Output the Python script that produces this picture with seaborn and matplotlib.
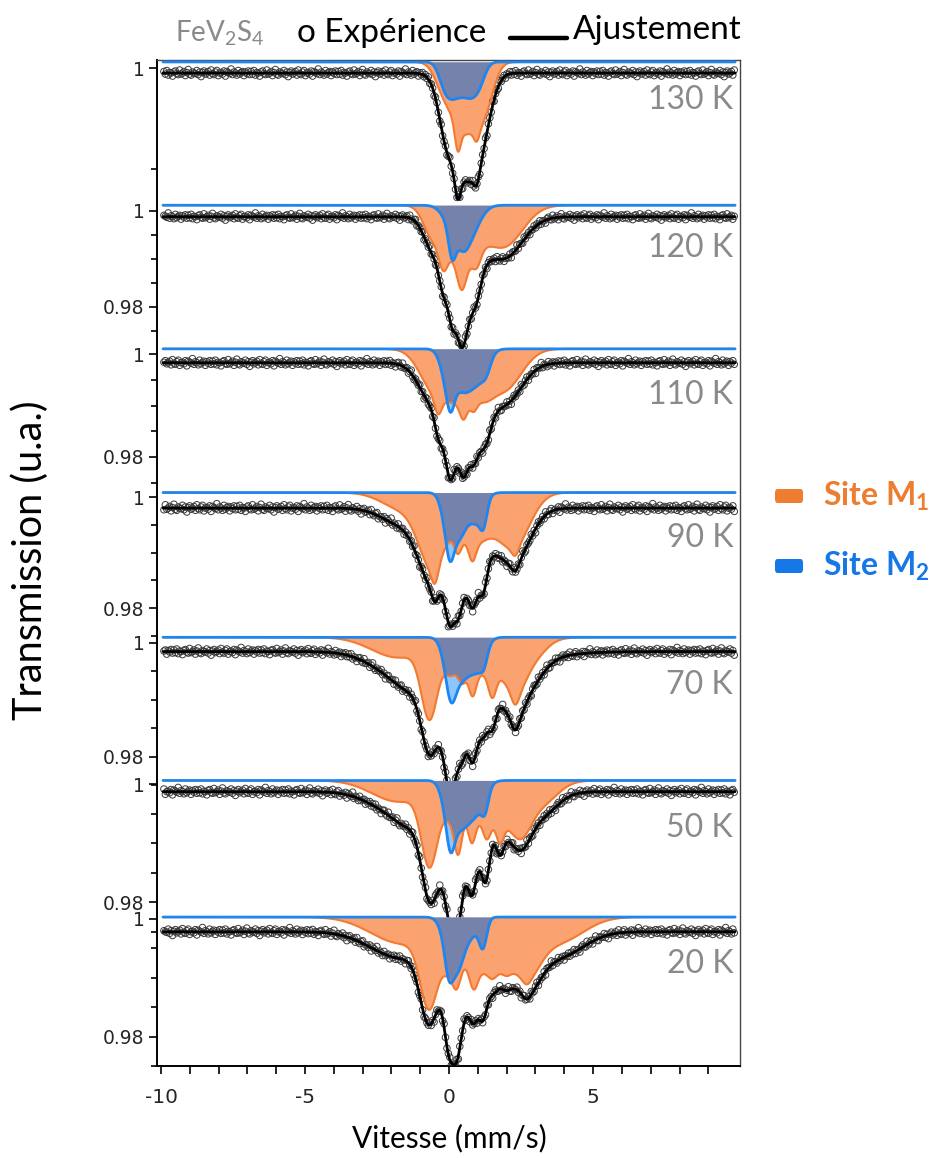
import numpy as np
import matplotlib
matplotlib.use('Agg')
import matplotlib.pyplot as plt
import matplotlib.transforms as mtransforms
from matplotlib.lines import Line2D
from matplotlib.patches import FancyBboxPatch
import seaborn as sns

sns.set_theme(style='ticks')
plt.rcParams['font.family'] = ['Lato', 'DejaVu Sans']
plt.rcParams['mathtext.fontset'] = 'custom'
plt.rcParams['mathtext.rm'] = 'Lato'
plt.rcParams['mathtext.it'] = 'Lato:italic'
plt.rcParams['mathtext.bf'] = 'Lato:bold'
plt.rcParams['axes.unicode_minus'] = False

# temperatures, top to bottom
temps = ['130 K', '120 K', '110 K', '90 K', '70 K', '50 K', '20 K']

# absorption lines of each sub-spectrum:
# (centre in mm/s, depth in 1e-3 of transmission, width in mm/s)
m1_130 = [(0.55, 6.8, 0.45), (0.30, 2.5, 0.10), (0.96, 1.2, 0.10), (1.25, 3.5, 0.30), (-0.20, 2.0, 0.30)]
m2_130 = [(-0.15, 2.3, 0.2), (0.15, 2.3, 0.2), (0.45, 2.0, 0.2), (0.75, 2.3, 0.2), (1.05, 2.0, 0.2)]
m1_120 = [(0.4, 12, 0.55), (1.9, 8.5, 0.65), (-0.6, 5, 0.3), (-0.2, 5, 0.15), (0.44, 5, 0.15), (0.96, 3, 0.15)]
m2_120 = [(0.1, 5.5, 0.12), (0.1, 4, 0.3), (0.5, 6, 0.25), (0.85, 4, 0.3)]
m1_110 = [(0.5, 9, 0.5), (-0.5, 8, 0.5), (1.9, 8, 0.6), (1.25, 3, 0.3), (-0.38, 3, 0.12), (0.5, 3, 0.12), (0.85, 2, 0.12)]
m2_110 = [(0.05, 4, 0.13), (-0.05, 6, 0.22), (0.45, 7, 0.3), (1.0, 5.5, 0.3), (1.3, 2, 0.15)]
m1_90 = [(-0.6, 12, 0.45), (-1.6, 3, 0.7), (0.8, 9, 0.6), (2.25, 9.5, 0.55), (-0.49, 3, 0.12), (0.3, 3, 0.12), (0.81, 3, 0.12), (2.3, 1.5, 0.12)]
m2_90 = [(0.03, 4, 0.13), (-0.05, 5.5, 0.2), (0.35, 7.5, 0.25), (0.95, 5, 0.25), (1.2, 3.5, 0.12)]
m1_70 = [(-0.68, 12, 0.28), (-1.8, 3.5, 0.9), (1.3, 6.5, 1.0), (2.35, 5.5, 0.35), (3.0, 2.0, 0.4),
         (0.05, 3, 0.2), (0.45, 3, 0.13), (0.81, 4.5, 0.13), (1.5, 4, 0.13), (2.3, 2, 0.13)]
m2_70 = [(0.07, 3, 0.15), (0.02, 6, 0.22), (0.45, 6.5, 0.28), (1.0, 5, 0.25), (1.22, 2, 0.12)]
m1_50 = [(-0.68, 12, 0.28), (-1.8, 3.5, 0.9), (1.4, 7, 1.1), (2.5, 5, 0.35), (3.3, 2.5, 0.5),
         (0.1, 3, 0.25), (0.32, 6, 0.13), (0.79, 4.5, 0.13), (1.31, 3, 0.13), (1.77, 3.5, 0.13)]
m2_50 = [(0.05, 4, 0.13), (0.0, 6, 0.22), (0.4, 6, 0.25), (0.9, 5.5, 0.3), (1.25, 3, 0.12)]
m1_20 = [(-0.7, 11, 0.3), (-1.8, 4, 1.0), (1.4, 9.5, 1.3), (2.8, 4, 0.4), (4.0, 3, 0.8), (0.0, 3, 0.2),
         (0.27, 4, 0.14), (0.85, 3.5, 0.14), (1.5, 1.0, 0.14), (2.0, 0.8, 0.14), (2.7, 1.0, 0.14)]
m2_20 = [(-0.02, 3.5, 0.13), (0.05, 6, 0.25), (0.35, 5.5, 0.22), (0.8, 2.8, 0.25), (1.18, 4.5, 0.13)]

# absorption in the total fit that the two drawn sites leave unexplained
fx_130 = []
fx_120 = []
fx_110 = []
fx_90 = []
fx_70 = [(-0.1, 5.5, 0.3), (1.0, 2.5, 1.8), (-1.3, 2.5, 0.5)]
fx_50 = [(-0.3, 5, 0.35), (-1.3, 2.5, 0.5)]
fx_20 = []

m1_all = [m1_130, m1_120, m1_110, m1_90, m1_70, m1_50, m1_20]
m2_all = [m2_130, m2_120, m2_110, m2_90, m2_70, m2_50, m2_20]
fx_all = [fx_130, fx_120, fx_110, fx_90, fx_70, fx_50, fx_20]

# baselines: sub-spectra sit slightly above 1, the measured spectrum slightly below
comp_base = [1.0006, 1.0012, 1.0010, 1.0008, 1.0010, 1.0006, 1.0003]
data_base = [0.9995, 0.9988, 0.9983, 0.9980, 0.9985, 0.9987, 0.9978]

# scatter of the measured points around the fit (tenths), and its size per spectrum (1e-3)
resid = [3, -2, 5, -4, 1, 0, -6, 2, 4, -1, -3, 6, -2, 0, 3, -5, 1, 7, -2, -4,
         2, 0, -1, 5, -3, 2, -7, 1, 4, -2, 0, 3, -4, 6, -1, -3, 2, 5, -5, 0,
         1, -2, 4, -6, 3, 1, -1, 8, -3, 2, 0, -4, 5, -2, 1, 3, -5, 2, -1, 4, -3]
noise = [0.5, 1.0, 1.0, 1.0, 0.9, 0.9, 0.9]

n_channels = 400

# layout of the stacked panels (pixels of the 935x1158 picture)
FIG_W, FIG_H = 935, 1158
FRAME = (157, 60, 740, 1066)   # left, top, right, bottom
one_px = [68, 211, 354, 497, 643, 784, 928]          # where transmission 1 sits
px_per_unit = [10100, 4800, 5150, 5550, 5700, 5900, 5950]
label_drop = [32, 37, 41, 41, 42, 44, 45]

ORANGE_FILL = '#FBA271'
ORANGE_EDGE = '#F47A30'
LIGHT_BLUE = '#8CC6FF'
SLATE = '#7482AC'
BLUE_EDGE = '#1E86F0'
GREY = '#8a8a8a'


def band(v, lines):
    out = np.zeros_like(v)
    for c, d, w in lines:
        out += d * 1e-3 * np.exp(-0.5 * ((v - c) / w) ** 2)
    return out


fig = plt.figure(figsize=(FIG_W / 100, FIG_H / 100), dpi=100)
rect = [FRAME[0] / FIG_W, 1 - FRAME[3] / FIG_H,
        (FRAME[2] - FRAME[0]) / FIG_W, (FRAME[3] - FRAME[1]) / FIG_H]
xlim = (-10.14, 10.1)

ax0 = fig.add_axes(rect)
ax0.set_xlim(*xlim)
ax0.set_ylim(0, 1)
ax0.set_yticks([])
ax0.set_xticks([-10, -5, 0, 5])
ax0.set_xticklabels(['-10', '-5', '0', '5'])
ax0.set_xticks([v for v in range(-10, 10) if v % 5], minor=True)
ax0.tick_params(axis='x', which='both', direction='out', length=6, width=1.2,
                color='black', labelsize=14.5, pad=10, bottom=True)
for lab in ax0.get_xticklabels():
    lab.set_family('DejaVu Sans')
for side in ['left', 'bottom']:
    ax0.spines[side].set_linewidth(1.4)
    ax0.spines[side].set_color('black')
for side in ['top', 'right']:
    ax0.spines[side].set_linewidth(1.0)
    ax0.spines[side].set_color('#444444')

vfine = np.linspace(-9.93, 9.93, 1600)
vel = np.linspace(-9.9, 9.9, n_channels)

for i, t in enumerate(temps):
    k = px_per_unit[i]
    y1 = one_px[i]
    ax = fig.add_axes(rect, label='panel%d' % i)
    ax.patch.set_alpha(0)
    ax.set_xlim(*xlim)
    ax.set_ylim(1 - (FRAME[3] - y1) / k, 1 + (y1 - FRAME[1]) / k)
    for s in ax.spines.values():
        s.set_visible(False)
    ax.set_xticks([])

    m1 = band(vfine, m1_all[i])
    m2 = band(vfine, m2_all[i])
    top = comp_base[i]
    ax.fill_between(vfine, top, top - m1, color=ORANGE_FILL, lw=0)
    ax.fill_between(vfine, top, top - m2, color=LIGHT_BLUE, lw=0)
    sns.lineplot(x=vfine, y=top - m1, ax=ax, color=ORANGE_EDGE, lw=1.5, sort=False)
    ax.fill_between(vfine, top, top - np.minimum(m1, m2), color=SLATE, lw=0)
    sns.lineplot(x=vfine, y=top - m2, ax=ax, color=BLUE_EDGE, lw=2.0, sort=False)

    fit_fine = data_base[i] - (m1 + m2 + band(vfine, fx_all[i]))
    fit_ch = data_base[i] - (band(vel, m1_all[i]) + band(vel, m2_all[i]) + band(vel, fx_all[i]))
    scatter = np.resize(np.roll(resid, 17 * i), n_channels) * 0.1 * noise[i] * 1e-3
    sns.scatterplot(x=vel, y=fit_ch + scatter, ax=ax, s=22, color='#333333',
                    linewidth=0.7, legend=False)
    pts = ax.collections[-1]
    pts.set_facecolor('none')
    pts.set_edgecolor('#3a3a3a')
    sns.lineplot(x=vfine, y=fit_fine, ax=ax, color='black', lw=2.0, sort=False)

    if i == 0:
        ax.set_yticks([1.0])
        ax.set_yticklabels(['1'])
        ax.set_yticks([0.99], minor=True)
    else:
        ax.set_yticks([0.98, 1.0])
        ax.set_yticklabels(['0.98', '1'])
        ax.set_yticks([0.975, 0.985, 0.99, 0.995], minor=True)
    ax.tick_params(axis='y', which='both', direction='out', left=True, width=1.2,
                   color='black', labelsize=13.5, pad=3)
    ax.tick_params(axis='y', which='major', length=6)
    ax.tick_params(axis='y', which='minor', length=4.5)
    for lab in ax.get_yticklabels():
        lab.set_family('DejaVu Sans')

    tr = mtransforms.blended_transform_factory(ax.transAxes, ax.transData)
    ax.annotate(t, xy=(0.988, 1.0), xycoords=tr, xytext=(0, -label_drop[i] * 0.72),
                textcoords='offset points', ha='right', va='center',
                fontsize=23, color=GREY)

# axis titles
fig.text(30 / FIG_W, 1 - 560 / FIG_H, 'Transmission (u.a.)', rotation=90,
         ha='center', va='center', fontsize=28.5, color='black')
fig.text(449 / FIG_W, 1 - 1138 / FIG_H, 'Vitesse (mm/s)', ha='center', va='center',
         fontsize=21.5, color='black')

# header
fig.text(175 / FIG_W, 1 - 33 / FIG_H, 'FeV$_2$S$_4$', ha='left', va='center',
         fontsize=20, color=GREY)
fig.text(297 / FIG_W, 1 - 33 / FIG_H, 'o Expérience', ha='left', va='center',
         fontsize=24, color='black')
fig.add_artist(Line2D([510 / FIG_W, 567 / FIG_W], [1 - 38 / FIG_H] * 2,
                      transform=fig.transFigure, color='black', lw=3.2))
fig.text(573 / FIG_W, 1 - 30 / FIG_H, 'Ajustement', ha='left', va='center',
         fontsize=24, color='black')

# site legend
for yc, txt, col in [(496, 'Site M$_\\mathbf{1}$', '#ED7D31'),
                     (566, 'Site M$_\\mathbf{2}$', '#1577E8')]:
    fig.add_artist(FancyBboxPatch((775 / FIG_W, 1 - (yc + 7) / FIG_H), 28 / FIG_W, 14 / FIG_H,
                                  boxstyle='round,pad=0,rounding_size=0.003',
                                  transform=fig.transFigure, fc=col, ec='none'))
    fig.text(823 / FIG_W, 1 - yc / FIG_H, txt, ha='left', va='center',
             fontsize=23, fontweight='bold', color=col)

fig.savefig('out.png', dpi=100)
